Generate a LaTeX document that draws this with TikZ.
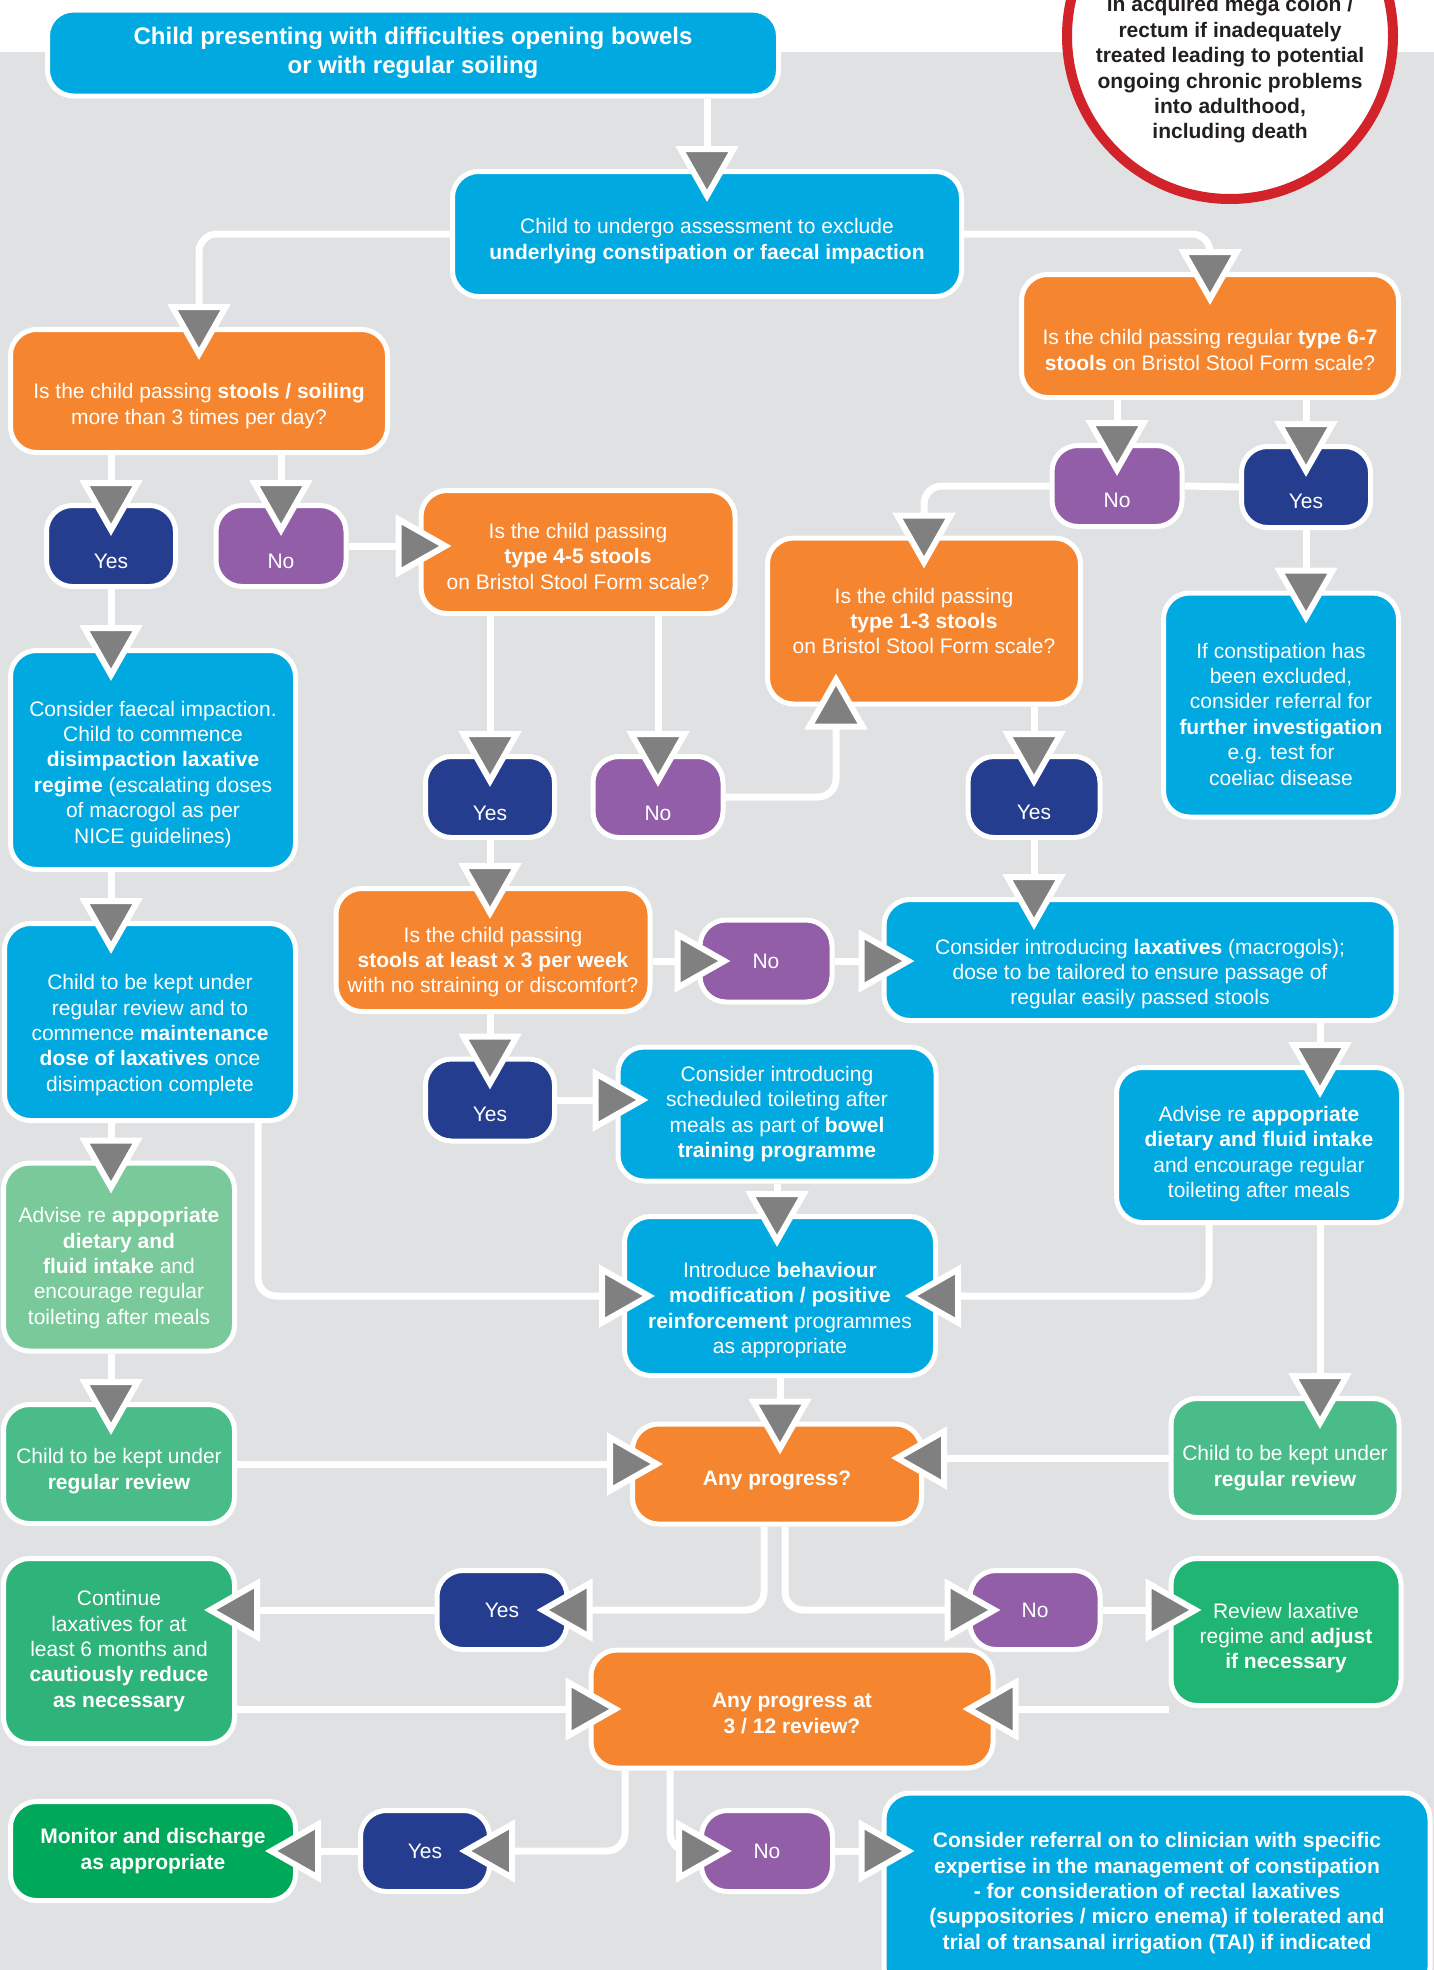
\documentclass[tikz,border=0pt]{standalone}
\usepackage{fontspec}
\setmainfont{Liberation Sans}
\usetikzlibrary{arrows.meta}
\definecolor{bggrey}{HTML}{E0E1E3}
\definecolor{tipgrey}{HTML}{808080}
\definecolor{cyanbox}{HTML}{00A9E0}
\definecolor{orangebox}{HTML}{F5862F}
\definecolor{yesblue}{HTML}{253D8E}
\definecolor{nopurple}{HTML}{925EA8}
\definecolor{palegreen}{HTML}{79C99B}
\definecolor{midgreen}{HTML}{4ABC89}
\definecolor{contgreen}{HTML}{2EB47A}
\definecolor{revgreen}{HTML}{21B573}
\definecolor{darkgreen}{HTML}{00A859}
\definecolor{ringred}{HTML}{D2232A}
\definecolor{warntext}{HTML}{231F20}
\newcommand{\pushdown}[1]{\rule{0pt}{#1}}

\begin{document}
\begin{tikzpicture}[x=1pt, y=-1pt,
    box/.style={rectangle, rounded corners=26pt, draw=white, line width=5pt, text=white, align=center, inner sep=2pt},
    sz/.style 2 args={minimum width=#1pt, minimum height=#2pt},
    reg/.style={font=\fontsize{21}{25.4}\selectfont},
    regb/.style={font=\bfseries\fontsize{21}{25.4}\selectfont},
    action/.style={box, fill=cyanbox},
    question/.style={box, fill=orangebox},
    yesbox/.style={box, fill=yesblue, sz={129}{81}},
    nobox/.style={box, fill=nopurple, sz={130}{81}},
    flow/.style={draw=white, line width=7pt, rounded corners=18pt, shorten >=-33pt,
        -{Triangle[width=62pt, length=56pt, line width=6pt, fill=tipgrey]}},
    link/.style={draw=white, line width=7pt}]

    \useasboundingbox (0,0) rectangle (1434,1970);
    \fill[white] (0,0) rectangle (1434,52);
    \fill[bggrey] (0,52) rectangle (1434,1970);

    % warning circle
    \draw[ringred, line width=10pt, fill=white] (1230,36) circle (163pt);
    \node[regb, text=warntext, align=center] (warning) at (1230,70) {in acquired mega colon /\\rectum if inadequately\\treated leading to potential\\ongoing chronic problems\\into adulthood,\\including death};

    \node[action, font=\bfseries\fontsize{24}{29}\selectfont, sz={731}{86}] (start) at (413,53) {Child presenting with difficulties opening bowels\\or with regular soiling};
    \node[action, reg, sz={509}{125}] (assess) at (707,234) {\pushdown{29.5pt}Child to undergo assessment to exclude\\\textbf{underlying constipation or faecal impaction}};

    \node[question, reg, sz={377}{123}] (q1) at (199,391) {\pushdown{45.5pt}Is the child passing \textbf{stools / soiling}\\more than 3 times per day?};
    \node[question, reg, sz={377}{123}] (q2) at (1210,336) {\pushdown{43.5pt}Is the child passing regular \textbf{type 6-7}\\\textbf{stools} on Bristol Stool Form scale?};

    \node[yesbox, reg] (yes1) at (111,546) {\pushdown{46pt}Yes};
    \node[nobox, reg] (no1) at (281,546) {\pushdown{46pt}No};
    \node[question, reg, sz={314}{123}] (q3) at (578,552) {\pushdown{23.5pt}Is the child passing\\\textbf{type 4-5 stools}\\on Bristol Stool Form scale?};
    \node[nobox, reg] (no2) at (1117,486) {\pushdown{43pt}No};
    \node[yesbox, reg] (yes2) at (1306,487) {\pushdown{44pt}Yes};
    \node[question, reg, sz={313}{166}] (q4) at (924,621) {Is the child passing\\\textbf{type 1-3 stools}\\on Bristol Stool Form scale?};
    \node[action, reg, sz={235}{224}] (info) at (1281,705) {\pushdown{33.5pt}If constipation has\\been excluded,\\consider referral for\\\textbf{further investigation}\\e.g. test for\\coeliac disease};

    \node[action, reg, sz={285}{219}] (disimp) at (153,760) {\pushdown{43.5pt}Consider faecal impaction.\\Child to commence\\\textbf{disimpaction laxative}\\\textbf{regime} (escalating doses\\of macrogol as per\\NICE guidelines)};
    \node[yesbox, reg] (yes3) at (490,797) {\pushdown{47pt}Yes};
    \node[nobox, reg] (no3) at (658,797) {\pushdown{47pt}No};
    \node[yesbox, reg, sz={132}{81}] (yes4) at (1034,797) {\pushdown{45pt}Yes};

    \node[action, reg, sz={291}{197}] (maint) at (150,1022) {\pushdown{41.5pt}Child to be kept under\\regular review and to\\commence \textbf{maintenance}\\\textbf{dose of laxatives} once\\disimpaction complete};
    \node[question, reg, sz={314}{123}] (q5) at (493,950) {\pushdown{39.5pt}Is the child passing\\\textbf{stools at least x 3 per week}\\with no straining or discomfort?};
    \node[nobox, reg, sz={132}{82}] (no5) at (766,961) {No};
    \node[action, reg, sz={512}{121}] (lax) at (1140,960) {\pushdown{43.5pt}Consider introducing \textbf{laxatives} (macrogols);\\dose to be tailored to ensure passage of\\regular easily passed stools};
    \node[yesbox, reg, sz={129}{82}] (yes5) at (490,1100) {\pushdown{43.5pt}Yes};
    \node[action, reg, sz={318}{134}] (bowel) at (777,1114) {Consider introducing\\scheduled toileting after\\meals as part of \textbf{bowel}\\\textbf{training programme}};
    \node[action, reg, sz={285}{155}] (advise2) at (1259,1145) {\pushdown{33.5pt}Advise re \textbf{appopriate}\\\textbf{dietary and fluid intake}\\and encourage regular\\toileting after meals};

    \node[box, fill=palegreen, reg, sz={231}{188}] (advise1) at (119,1257) {\pushdown{37.5pt}Advise re \textbf{appopriate}\\\textbf{dietary and}\\\textbf{fluid intake} and\\encourage regular\\toileting after meals};
    \node[action, reg, sz={311}{159}] (behav) at (780,1296) {\pushdown{43.5pt}Introduce \textbf{behaviour}\\\textbf{modification / positive}\\\textbf{reinforcement} programmes\\as appropriate};
    \node[box, fill=midgreen, reg, sz={231}{119}] (review1) at (119,1464) {\pushdown{29.5pt}Child to be kept under\\\textbf{regular review}};
    \node[box, fill=midgreen, reg, sz={228}{119}] (review2) at (1285,1458) {\pushdown{35.5pt}Child to be kept under\\\textbf{regular review}};
    \node[question, regb, sz={289}{100}] (anyprog) at (777,1474) {\pushdown{27.5pt}Any progress?};

    \node[yesbox, reg, sz={130}{79}] (yes6) at (502,1610) {Yes};
    \node[nobox, reg, sz={130}{79}] (no6) at (1035,1610) {No};
    \node[box, fill=contgreen, reg, sz={231}{185}] (cont) at (119,1651) {Continue\\laxatives for at\\least 6 months and\\\textbf{cautiously reduce}\\\textbf{as necessary}};
    \node[box, fill=revgreen, reg, sz={230}{147}] (revlax) at (1286,1632) {\pushdown{27.5pt}Review laxative\\regime and \textbf{adjust}\\\textbf{if necessary}};
    \node[question, regb, sz={402}{118}] (prog) at (792,1709) {\pushdown{23.5pt}Any progress at\\3 / 12 review?};

    \node[yesbox, reg] (yes7) at (425,1851) {Yes};
    \node[nobox, reg, sz={131}{81}] (no7) at (767,1851) {No};
    \node[box, fill=darkgreen, regb, sz={285}{99}] (monitor) at (153,1851) {Monitor and discharge\\as appropriate};
    \node[action, regb, sz={546}{200}] (referral) at (1157,1893) {Consider referral on to clinician with specific\\expertise in the management of constipation\\- for consideration of rectal laxatives\\(suppositories / micro enema) if tolerated and\\trial of transanal irrigation (TAI) if indicated};

    % connectors
    \draw[flow] (start.south -| assess.north) -- (assess.north);
    \draw[flow] (assess.west) -| (q1.north);
    \draw[flow] (assess.east) -| (q2.north);
    \draw[flow] (q1.south -| yes1) -- (yes1.north);
    \draw[flow] (q1.south -| no1) -- (no1.north);
    \draw[flow] (no1.east) -- (no1.east -| q3.west);
    \draw[flow] (q2.south -| no2) -- (no2.north);
    \draw[flow] (q2.south -| yes2) -- (yes2.north);
    \draw[link] (no2.east) -- (yes2.west);
    \draw[flow] (no2.west) -| (q4.north);
    \draw[flow] (yes2.south) -- (info.north -| yes2.south);
    \draw[flow] (yes1.south) -- (disimp.north -| yes1.south);
    \draw[flow] (q3.south -| yes3) -- (yes3.north);
    \draw[flow] (q3.south -| no3) -- (no3.north);
    \draw[flow] (no3.east) -| ([xshift=-88pt]q4.south);
    \draw[flow] (q4.south -| yes4) -- (yes4.north);
    \draw[flow] (yes4.south) -- (lax.north -| yes4.south);
    \draw[flow] (yes1 |- disimp.south) -- (yes1 |- maint.north);
    \draw[flow] (yes3.south) -- (q5.north -| yes3.south);
    \draw[flow] (q5.east |- no5) -- (no5.west);
    \draw[flow] (no5.east) -- (no5.east -| lax.west);
    \draw[flow] (q5.south -| yes5) -- (yes5.north);
    \draw[flow] (yes5.east) -- (yes5.east -| bowel.west);
    \draw[flow] (bowel.south) -- (behav.north -| bowel.south);
    \draw[flow] ([xshift=61pt]advise2.north |- lax.south) -- ([xshift=61pt]advise2.north);
    \draw[flow] ([xshift=61pt]advise2.south) -- ([xshift=61pt]advise2.south |- review2.north);
    \draw[flow] ([xshift=-50pt]advise2.south) |- (behav.east);
    \draw[flow] ([xshift=108pt]maint.south) |- (behav.west);
    \draw[flow] (yes1 |- maint.south) -- (yes1 |- advise1.north);
    \draw[flow] (yes1 |- advise1.south) -- (yes1 |- review1.north);
    \draw[flow] (review1.east) -- (review1.east -| anyprog.west);
    \draw[flow] (review2.west) -- (review2.west -| anyprog.east);
    \draw[flow] (behav.south) -- (anyprog.north -| behav.south);
    \draw[flow] ([xshift=-13pt]anyprog.south) |- (yes6.east);
    \draw[flow] ([xshift=8pt]anyprog.south) |- (no6.west);
    \draw[flow] (yes6.west) -- (yes6.west -| cont.east);
    \draw[flow] (no6.east) -- (no6.east -| revlax.west);
    \draw[flow] (cont.east |- prog.west) -- (prog.west);
    \draw[flow] (revlax.west |- prog.east) -- (prog.east);
    \draw[flow] ([xshift=-167pt]prog.south) |- (yes7.east);
    \draw[flow] ([xshift=-122pt]prog.south) |- (no7.west);
    \draw[flow] (yes7.west) -- (yes7.west -| monitor.east);
    \draw[flow] (no7.east) -- (no7.east -| referral.west);
\end{tikzpicture}
\end{document}
